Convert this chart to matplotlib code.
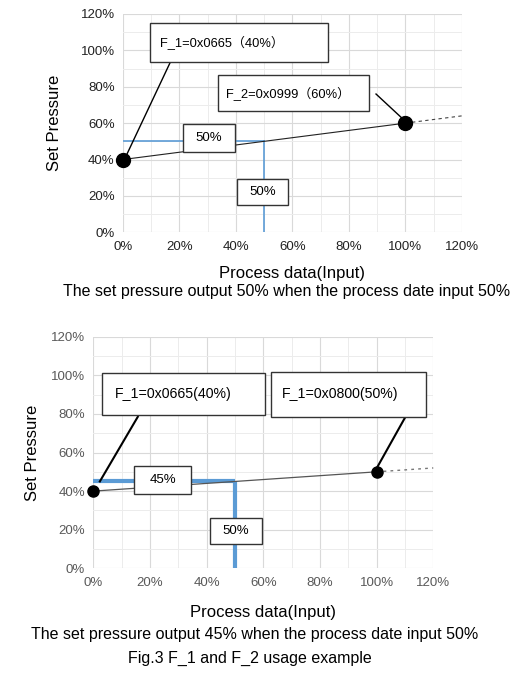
import numpy as np
import matplotlib.pyplot as plt
from matplotlib.patches import Rectangle

plt.rcParams['font.family'] = ['Liberation Sans', 'Noto Sans CJK JP', 'DejaVu Sans']

# data (percent)
x_pts = [0, 100]
top_y = [40, 60]          # F_1 = 40%, F_2 = 60%
bot_y = [40, 50]          # F_1 = 40%, F_2 = 50%
top_ext = [100, 120]
top_ext_y = [60, 64]
bot_ext_y = [50, 52]
top_in, top_out = 50, 50
bot_in, bot_out = 50, 45
ticks = [0, 20, 40, 60, 80, 100, 120]
tick_labels = ['%d%%' % t for t in ticks]

top_f1 = 'F_1=0x0665（40%）'
top_f2 = 'F_2=0x0999（60%）'
bot_f1 = 'F_1=0x0665(40%)'
bot_f2 = 'F_1=0x0800(50%)'

blue = '#5b9bd5'

fig = plt.figure(figsize=(5.32, 6.76), dpi=100)


def setup(ax, tick_color, size):
    ax.set_xlim(0, 120)
    ax.set_ylim(0, 120)
    ax.set_xticks(ticks)
    ax.set_yticks(ticks)
    ax.set_xticklabels(tick_labels)
    ax.set_yticklabels(tick_labels)
    ax.set_xticks(np.arange(10, 120, 20), minor=True)
    ax.set_yticks(np.arange(10, 120, 20), minor=True)
    ax.grid(which='major', color='#d9d9d9', linewidth=0.8)
    ax.grid(which='minor', color='#ececec', linewidth=0.7)
    ax.tick_params(which='both', length=0, labelsize=size, colors=tick_color, pad=6)
    for s in ax.spines.values():
        s.set_visible(False)
    ax.set_axisbelow(True)


def box(ax, x0, y0, x1, y1, text, tx=None, size=8.5):
    ax.add_patch(Rectangle((x0, y0), x1 - x0, y1 - y0, facecolor='white',
                           edgecolor='#333333', linewidth=1.0, zorder=5, clip_on=False))
    if tx is None:
        ax.text((x0 + x1) / 2, (y0 + y1) / 2, text, ha='center', va='center',
                fontsize=size, zorder=6)
    else:
        ax.text(tx, (y0 + y1) / 2, text, ha='left', va='center', fontsize=size, zorder=6)


# ---- top chart ----
ax1 = fig.add_axes([0.2312, 0.6564, 0.637, 0.3229])
setup(ax1, '#222222', 9.5)
ax1.plot([0, top_in], [top_out, top_out], color=blue, lw=1.2, zorder=3)
ax1.plot([top_in, top_in], [0, top_out], color=blue, lw=1.2, zorder=3)
ax1.plot(x_pts, top_y, color='#222222', lw=0.8, zorder=4)
ax1.plot(top_ext, top_ext_y, color='#444444', lw=0.8, ls=(0, (3, 3)), zorder=4, clip_on=False)
ax1.plot(x_pts, top_y, 'o', color='black', ms=10, zorder=7, clip_on=False)
ax1.plot([0.5, 16.6], [40, 93], color='black', lw=1.0, zorder=4)
ax1.plot([89.6, 100], [76, 61], color='black', lw=1.0, zorder=4)
box(ax1, 9.6, 93.6, 72.6, 115, top_f1, tx=13, size=9.3)
box(ax1, 33.5, 66.7, 87.2, 86.3, top_f2, tx=36.5, size=9.3)
box(ax1, 21.3, 44.3, 39.6, 59.5, '50%', size=9.5)
box(ax1, 40.5, 15, 58.5, 29.1, '50%', size=9.5)
ax1.set_ylabel('Set Pressure', fontsize=12, labelpad=13)
ax1.set_xlabel('Process data(Input)', fontsize=12, labelpad=10)
fig.text(0.538, 0.569, 'The set pressure output 50% when the process date input 50%',
         ha='center', va='center', fontsize=11.5)

# ---- bottom chart ----
ax2 = fig.add_axes([0.1754, 0.1593, 0.639, 0.3426])
setup(ax2, '#595959', 9.5)
ax2.plot([0, bot_in], [bot_out, bot_out], color=blue, lw=3, zorder=3, solid_capstyle='butt')
ax2.plot([bot_in, bot_in], [0, bot_out], color=blue, lw=3, zorder=3, solid_capstyle='butt')
ax2.plot(x_pts, bot_y, color='#555555', lw=0.9, zorder=4)
ax2.plot(top_ext, bot_ext_y, color='#777777', lw=1.0, ls=(0, (2, 3)), zorder=4, clip_on=False)
ax2.plot(x_pts, bot_y, 'o', color='black', ms=8, zorder=7, clip_on=False)
ax2.plot([2.3, 15.7], [45, 78.5], color='black', lw=1.5, zorder=4)
ax2.plot([99.7, 110], [51, 78], color='black', lw=1.5, zorder=4)
box(ax2, 3.1, 79.4, 60.6, 101, bot_f1, tx=7.5, size=10.2)
box(ax2, 62.7, 78.6, 117.3, 101.9, bot_f2, tx=66.5, size=10.2)
box(ax2, 14.5, 38.5, 34.5, 53, '45%', size=9.5)
box(ax2, 41.2, 12.6, 59.4, 25.9, '50%', size=9.5)
ax2.set_ylabel('Set Pressure', fontsize=12, labelpad=8)
ax2.set_xlabel('Process data(Input)', fontsize=12, labelpad=12)
fig.text(0.478, 0.0617, 'The set pressure output 45% when the process date input 50%',
         ha='center', va='center', fontsize=11.5)
fig.text(0.47, 0.0262, 'Fig.3 F_1 and F_2 usage example', ha='center', va='center',
         fontsize=11.5)

fig.savefig('out.png', dpi=100)
